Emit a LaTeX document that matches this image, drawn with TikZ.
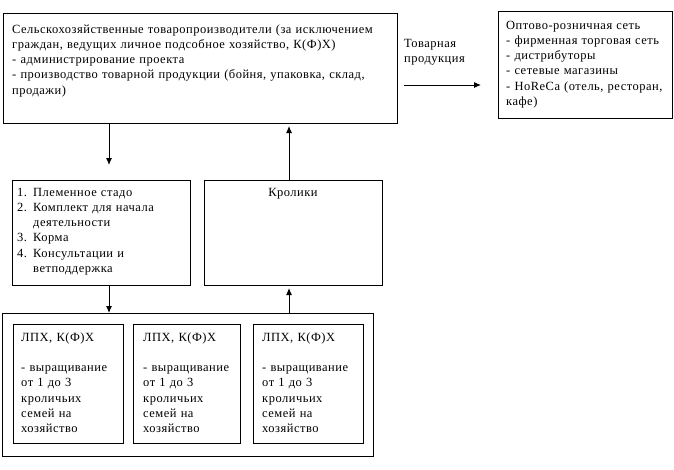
\documentclass[tikz,border=0pt]{standalone}
\usepackage{fontspec}
\setmainfont[LetterSpace=4]{Liberation Serif}
\usetikzlibrary{arrows.meta,calc}
\newcommand{\numitem}[1]{\makebox[16pt][l]{#1}}
\newcommand{\contline}{\hspace*{16pt}}
\begin{document}
\begin{tikzpicture}[x=1pt,y=-1pt,
  box/.style={draw,line width=1pt,rectangle,inner sep=0pt,anchor=north west},
  txt/.style={anchor=base west,inner sep=0pt,align=left,font=\fontsize{12.5}{15.3}\selectfont},
  arr/.style={line width=1pt,-{Latex[length=7pt,width=6pt]}}]
\useasboundingbox (0,0) rectangle (674,469);
% boxes
\node[box,minimum width=394pt,minimum height=110pt] (top) at (3,13) {};
\node[box,minimum width=174pt,minimum height=107pt] (net) at (498,11) {};
\node[box,minimum width=178pt,minimum height=105pt] (kit) at (12,180) {};
\node[box,minimum width=178pt,minimum height=105pt] (rab) at (204,180) {};
\node[box,minimum width=371pt,minimum height=143pt] (outer) at (2,313) {};
\node[box,minimum width=110pt,minimum height=119pt] (f1) at (13,324) {};
\node[box,minimum width=107pt,minimum height=119pt] (f2) at (133,324) {};
\node[box,minimum width=110pt,minimum height=119pt] (f3) at (253,324) {};
% texts
\node[txt,text width=385pt] (ttop) at (12,33) {Сельскохозяйственные товаропроизводители (за исключением\\
граждан, ведущих личное подсобное хозяйство, К(Ф)Х)\\
- администрирование проекта\\
- производство товарной продукции (бойня, упаковка, склад,\\
продажи)};
\node[txt,text width=165pt] (tnet) at (506,29) {Оптово-розничная сеть\\
- фирменная торговая сеть\\
- дистрибуторы\\
- сетевые магазины\\
- HoReCa (отель, ресторан,\\
кафе)};
\node[txt,text width=90pt] (tprod) at (404,47) {Товарная\\продукция};
\node[txt,text width=170pt] (tkit) at (17,196) {\numitem{1.}Племенное стадо\\
\numitem{2.}Комплект для начала\\
\contline деятельности\\
\numitem{3.}Корма\\
\numitem{4.}Консультации и\\
\contline ветподдержка};
\node[anchor=base,inner sep=0pt,font=\fontsize{12.5}{15.3}\selectfont] (trab) at (293,196) {Кролики};
\node[txt,text width=100pt] (tf1) at (21,341) {ЛПХ, К(Ф)Х\\[15.3pt]
- выращивание\\от 1 до 3\\кроличьих\\семей на\\хозяйство};
\node[txt,text width=100pt] (tf2) at (143,341) {ЛПХ, К(Ф)Х\\[15.3pt]
- выращивание\\от 1 до 3\\кроличьих\\семей на\\хозяйство};
\node[txt,text width=100pt] (tf3) at (262,341) {ЛПХ, К(Ф)Х\\[15.3pt]
- выращивание\\от 1 до 3\\кроличьих\\семей на\\хозяйство};
% connectors
\coordinate (a1) at (109,165);
\coordinate (a2) at (289,126);
\coordinate (a4) at (289,288);
\coordinate (p1) at (404,85);
\coordinate (p2) at (481,85);
\draw[arr] (top.south -| a1) -- (a1);
\draw[arr] (rab.north -| a2) -- (a2);
\draw[arr] (kit.south -| a1) -- (outer.north -| a1);
\draw[arr] (outer.north -| a4) -- (a4);
\draw[arr] (p1) -- (p2);
\end{tikzpicture}
\end{document}
